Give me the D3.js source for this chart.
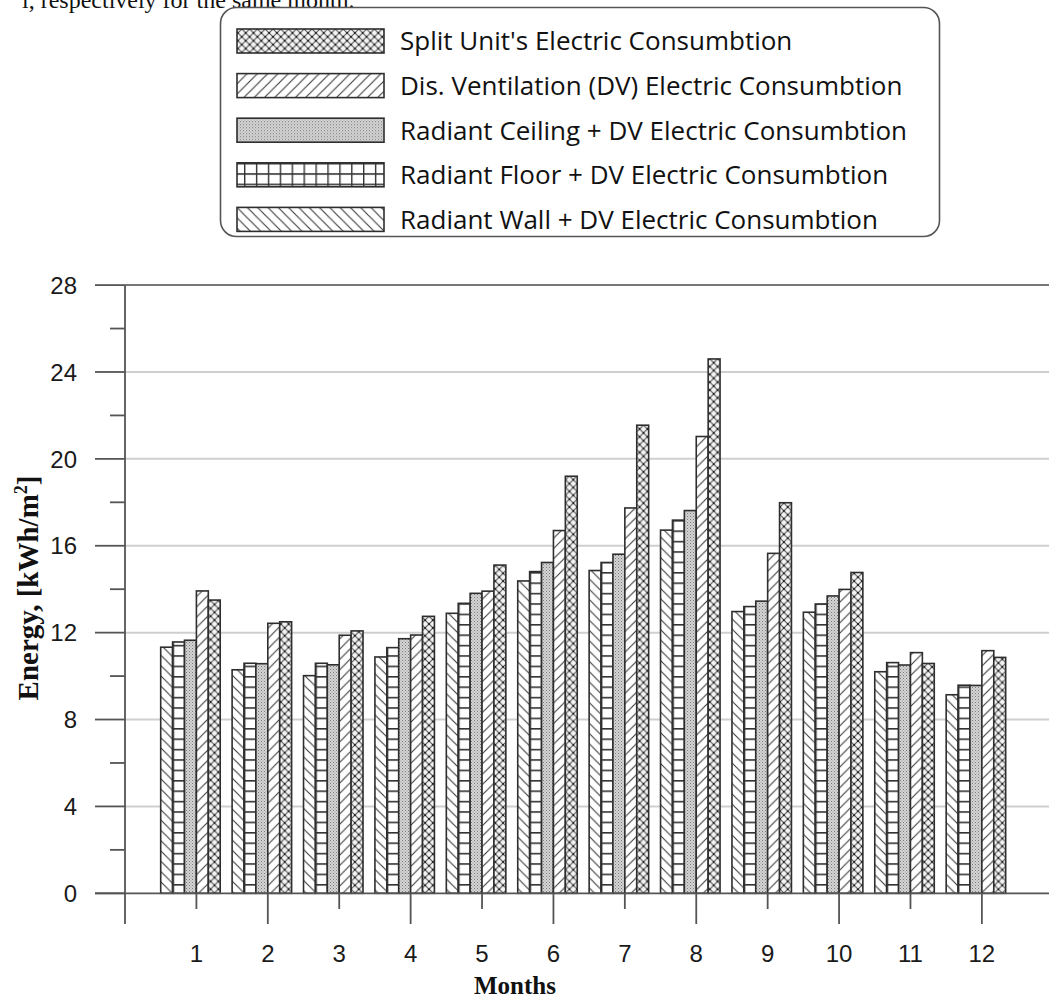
<!DOCTYPE html>
<html>
<head>
<meta charset="utf-8">
<script src="https://cdn.jsdelivr.net/npm/d3@7"></script>
<style>
  html, body { margin: 0; padding: 0; background: #fff; }
  svg { display: block; }
</style>
</head>
<body>
<svg id="chart" width="1049" height="1000"></svg>
<script>
// Monthly electric consumption per floor area, five HVAC configurations
const months = [1, 2, 3, 4, 5, 6, 7, 8, 9, 10, 11, 12];
const wallDV    = [11.33, 10.29, 10.02, 10.88, 12.89, 14.38, 14.86, 16.72, 12.97, 12.94, 10.20, 9.14];
const floorDV   = [11.57, 10.59, 10.59, 11.31, 13.35, 14.81, 15.23, 17.18, 13.20, 13.32, 10.62, 9.58];
const ceilingDV = [11.65, 10.57, 10.52, 11.72, 13.81, 15.23, 15.61, 17.62, 13.45, 13.69, 10.51, 9.57];
const dvOnly    = [13.92, 12.43, 11.88, 11.89, 13.91, 16.70, 17.74, 21.03, 15.65, 13.99, 11.08, 11.17];
const splitUnit = [13.50, 12.50, 12.08, 12.75, 15.11, 19.20, 21.55, 24.60, 17.98, 14.77, 10.58, 10.86];

const seriesNames = [
  "Radiant Wall + DV Electric Consumbtion",
  "Radiant Floor + DV Electric Consumbtion",
  "Radiant Ceiling + DV Electric Consumbtion",
  "Dis. Ventilation (DV) Electric Consumbtion",
  "Split Unit's Electric Consumbtion"
];
const seriesValues = [wallDV, floorDV, ceilingDV, dvOnly, splitUnit];
const seriesPatterns = ["hatchBack", "grid", "dots", "hatchFwd", "cross"];
// legend lists the series top to bottom in reverse of the bar order
const legendOrder = [4, 3, 2, 1, 0];

const yTicksMajor = [0, 4, 8, 12, 16, 20, 24, 28];
const yTicksMinor = [2, 6, 10, 14, 18, 22, 26];

const svg = d3.select("#chart");
const W = 1049, H = 1000;

// scales
const x = d3.scaleLinear().domain([0, 12.94]).range([125, 1049]);
const y = d3.scaleLinear().domain([0, 28]).range([893.3, 285.1]);
const step = x(1) - x(0);
// six slots per month: five bars plus an empty one
const slot = d3.scaleBand().domain(d3.range(6)).range([0, step]).paddingInner(0).paddingOuter(0);

// ---------- patterns ----------
const defs = svg.append("defs");
const ink = "#3a3a3a";

function hatch(id, dir, size) {
  const p = defs.append("pattern").attr("id", id)
    .attr("patternUnits", "userSpaceOnUse").attr("width", size).attr("height", size);
  p.append("rect").attr("width", size).attr("height", size).attr("fill", "#fff");
  const d = dir > 0
    ? `M0,${size} L${size},0 M${-size/2},${size/2} L${size/2},${-size/2} M${size/2},${size*1.5} L${size*1.5},${size/2}`
    : `M0,0 L${size},${size} M${-size/2},${size/2} L${size/2},${size*1.5} M${size/2},${-size/2} L${size*1.5},${size/2}`;
  p.append("path").attr("d", d).attr("stroke", ink).attr("stroke-width", 1.1).attr("fill", "none");
}
hatch("hatchBack", -1, 10.3);
hatch("hatchFwd", 1, 10.3);

// crosshatch with dark knots
{
  const s = 7.8;
  const p = defs.append("pattern").attr("id", "cross")
    .attr("patternUnits", "userSpaceOnUse").attr("width", s).attr("height", s);
  p.append("rect").attr("width", s).attr("height", s).attr("fill", "#f4f4f4");
  p.append("path")
    .attr("d", `M0,0 L${s},${s} M0,${s} L${s},0`)
    .attr("stroke", "#555").attr("stroke-width", 1.1).attr("fill", "none");
  p.append("rect").attr("x", s/2 - 1).attr("y", s/2 - 1).attr("width", 2).attr("height", 2).attr("fill", "#222");
  [[0, 0], [s, 0], [0, s], [s, s]].forEach(([cx, cy]) =>
    p.append("rect").attr("x", cx - 1).attr("y", cy - 1).attr("width", 2).attr("height", 2).attr("fill", "#222"));
}

// grid: vertical lines on slot edges, horizontal ladder
{
  const p = defs.append("pattern").attr("id", "grid")
    .attr("patternUnits", "userSpaceOnUse")
    .attr("x", x(0)).attr("y", 0)
    .attr("width", slot.bandwidth()).attr("height", 10.4);
  p.append("rect").attr("width", slot.bandwidth()).attr("height", 10.4).attr("fill", "#fff");
  p.append("rect").attr("x", 0).attr("y", 0).attr("width", slot.bandwidth()).attr("height", 1.6).attr("fill", "#333");
  p.append("rect").attr("x", 0).attr("y", 0).attr("width", 1.4).attr("height", 10.4).attr("fill", "#333");
}

// fine stipple
{
  const p = defs.append("pattern").attr("id", "dots")
    .attr("patternUnits", "userSpaceOnUse").attr("width", 3).attr("height", 3);
  p.append("rect").attr("width", 3).attr("height", 3).attr("fill", "#d4d4d4");
  p.append("rect").attr("x", 0).attr("y", 0).attr("width", 1).attr("height", 1).attr("fill", "#7a7a7a");
  p.append("rect").attr("x", 1.5).attr("y", 1.5).attr("width", 1).attr("height", 1).attr("fill", "#9a9a9a");
}

// ---------- gridlines ----------
const gridG = svg.append("g");
gridG.selectAll("line.grid")
  .data(yTicksMajor.filter(v => v > 0))
  .join("line")
  .attr("x1", x(0)).attr("x2", W)
  .attr("y1", d => y(d)).attr("y2", d => y(d))
  .attr("stroke", d => d === 28 ? "#777" : "#cfcfcf")
  .attr("stroke-width", 2);

// ---------- bars ----------
const barsG = svg.append("g");
seriesValues.forEach((vals, si) => {
  barsG.append("g")
    .selectAll("rect")
    .data(months.map((m, i) => ({ m, v: vals[i] })))
    .join("rect")
    .attr("x", d => x(d.m) - step / 2 + slot(si))
    .attr("width", slot.bandwidth())
    .attr("y", d => y(d.v))
    .attr("height", d => y(0) - y(d.v))
    .attr("fill", `url(#${seriesPatterns[si]})`)
    .attr("stroke", "#2e2e2e")
    .attr("stroke-width", 1.6);
});

// ---------- axes ----------
const axisColor = "#555";
const axG = svg.append("g").attr("stroke", axisColor).attr("stroke-width", 1.8);
// y axis line, running below the x axis
axG.append("line").attr("x1", x(0)).attr("x2", x(0)).attr("y1", y(28)).attr("y2", 924);
// x axis line
axG.append("line").attr("x1", 95).attr("x2", W).attr("y1", y(0)).attr("y2", y(0));
// y ticks
axG.selectAll("line.ymaj").data(yTicksMajor).join("line")
  .attr("x1", 95).attr("x2", x(0)).attr("y1", d => y(d)).attr("y2", d => y(d));
axG.selectAll("line.ymin").data(yTicksMinor).join("line")
  .attr("x1", 110).attr("x2", x(0)).attr("y1", d => y(d)).attr("y2", d => y(d));
// x ticks: even months long, odd months short
axG.selectAll("line.xt").data(months).join("line")
  .attr("x1", d => x(d)).attr("x2", d => x(d))
  .attr("y1", y(0)).attr("y2", d => d % 2 === 0 ? 924 : 909);

const tickFont = "'Liberation Sans', Arial, sans-serif";
svg.append("g").selectAll("text").data(yTicksMajor).join("text")
  .attr("x", 77).attr("y", d => y(d)).attr("dy", "0.36em")
  .attr("text-anchor", "end")
  .attr("font-family", tickFont).attr("font-size", 24).attr("fill", "#1a1a1a")
  .text(d => d);

svg.append("g").selectAll("text").data(months).join("text")
  .attr("x", d => x(d)).attr("y", 962)
  .attr("text-anchor", "middle")
  .attr("font-family", tickFont).attr("font-size", 24).attr("fill", "#1a1a1a")
  .text(d => d);

// axis titles
const serif = "'Liberation Serif', 'Times New Roman', serif";
svg.append("text")
  .attr("x", 515).attr("y", 994)
  .attr("text-anchor", "middle")
  .attr("font-family", serif).attr("font-weight", "bold").attr("font-size", 25).attr("fill", "#111")
  .text("Months");

const yTitle = svg.append("text")
  .attr("transform", "translate(38,588) rotate(-90)")
  .attr("text-anchor", "middle")
  .attr("font-family", serif).attr("font-weight", "bold").attr("font-size", 29).attr("fill", "#111");
yTitle.append("tspan").text("Energy, [kWh/m");
yTitle.append("tspan").attr("font-size", 18).attr("dy", -11).text("2");
yTitle.append("tspan").attr("dy", 11).text("]");

// running text of the page above the figure
svg.append("text")
  .attr("x", 22).attr("y", 8)
  .attr("font-family", serif).attr("font-size", 24).attr("fill", "#111")
  .text("l, respectively for the same month.");

// ---------- legend ----------
const lg = svg.append("g");
lg.append("rect")
  .attr("x", 220.5).attr("y", 7.5).attr("width", 719).attr("height", 229)
  .attr("rx", 16).attr("ry", 16)
  .attr("fill", "#fff").attr("stroke", "#555").attr("stroke-width", 1.6);

const rows = lg.selectAll("g.row").data(legendOrder).join("g")
  .attr("transform", (d, i) => `translate(0, ${29 + i * 44.6})`);
rows.append("rect")
  .attr("x", 237).attr("y", 0).attr("width", 147).attr("height", 24)
  .attr("fill", d => `url(#${seriesPatterns[d]})`)
  .attr("stroke", "#2e2e2e").attr("stroke-width", 1.6);
rows.append("text")
  .attr("x", 400).attr("y", 12).attr("dy", "0.36em")
  .attr("font-family", "'Open Sans', sans-serif").attr("font-size", 26).attr("fill", "#111")
  .text(d => seriesNames[d]);
</script>
</body>
</html>
